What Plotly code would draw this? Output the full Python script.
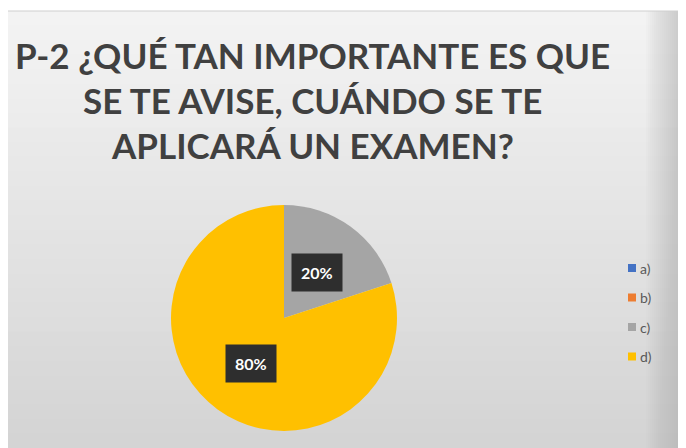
import math
import plotly.graph_objects as go

# ---- data ----
categories = ["a)", "b)", "c)", "d)"]
values = [0, 0, 20, 80]
colors = ["#4472C4", "#ED7D31", "#A5A5A5", "#FFC000"]
title_lines = ["P-2 ¿QUÉ TAN IMPORTANTE ES QUE", "SE TE AVISE, CUÁNDO SE TE", "APLICARÁ UN EXAMEN?"]

W, H = 686, 448
OFF = 8  # page body margin: figure is drawn 8px right/down in the window


def px(x):
    return (x - OFF) / W


def py(y):
    return (H - (y - OFF)) / H


# pie geometry (window pixels)
cx, cy, r = 284, 318, 113

fig = go.Figure()
fig.add_trace(go.Pie(
    labels=categories, values=values, sort=False, direction="clockwise", rotation=0,
    marker=dict(colors=colors, line=dict(width=0)),
    textinfo="none", showlegend=False,
    domain=dict(x=[px(cx - r), px(cx + r)], y=[py(cy + r), py(cy - r)]),
))

shapes = []
# gray gradient panel (starts at y=11 in window); overlapping rects avoid seams
top_px = 11
n = 30
c_top, c_bot = 243, 212
for i in range(n):
    ytop = top_px + (H - top_px) * i / n
    g = round(c_top + (c_bot - c_top) * i / (n - 1))
    shapes.append(dict(type="rect", xref="paper", yref="paper", x0=0, x1=1,
                       y0=0, y1=py(ytop), fillcolor=f"rgb({g},{g},{g})",
                       line=dict(width=0), layer="below"))
# darker right edge, soft
for i in range(16):
    shapes.append(dict(type="rect", xref="paper", yref="paper", x0=px(W - 40 + i * 2), x1=1,
                       y0=0, y1=py(top_px), fillcolor="rgba(170,170,170,0.035)",
                       line=dict(width=0), layer="below"))
shapes.append(dict(type="line", xref="paper", yref="paper", x0=0, x1=1,
                   y0=py(top_px), y1=py(top_px), line=dict(color="#cfcfcf", width=1), layer="below"))

annotations = []
# data labels with dark boxes, placed at slice mid-angle
total = sum(values)
cum = 0
for cat, v in zip(categories, values):
    if v > 0:
        mid = (cum + v / 2) / total * 2 * math.pi
        lx = cx + 0.5 * r * math.sin(mid)
        ly = cy - 0.5 * r * math.cos(mid)
        annotations.append(dict(x=px(lx), y=py(ly), xref="paper", yref="paper",
                                xanchor="center", yanchor="middle",
                                text=f"<b>{round(v / total * 100)}%</b>", showarrow=False,
                                font=dict(family="Lato, sans-serif", size=16, color="white"),
                                bgcolor="#2e2e2e", borderpad=9))
    cum += v

# custom legend
leg_x, leg_y0, leg_dy = 632, 268, 29.5
for i, (cat, col) in enumerate(zip(categories, colors)):
    yy = leg_y0 + i * leg_dy
    shapes.append(dict(type="rect", xref="paper", yref="paper",
                       x0=px(leg_x - 4), x1=px(leg_x + 4),
                       y0=py(yy + 4), y1=py(yy - 4),
                       fillcolor=col, line=dict(width=0)))
    annotations.append(dict(x=px(leg_x + 6), y=py(yy), xref="paper", yref="paper",
                            xanchor="left", yanchor="middle", text=cat, showarrow=False,
                            font=dict(family="Lato, sans-serif", size=14, color="#595959")))

# title block
for k, line in enumerate(title_lines):
    annotations.append(dict(x=px(312), y=py(55 + 45 * k), xref="paper", yref="paper",
                            xanchor="center", yanchor="middle", text=f"<b>{line}</b>",
                            showarrow=False,
                            font=dict(family="Lato, sans-serif", size=35, color="#404040")))

fig.update_layout(
    width=W, height=H, margin=dict(l=0, r=0, t=0, b=0),
    paper_bgcolor="white", plot_bgcolor="rgba(0,0,0,0)",
    shapes=shapes, annotations=annotations, showlegend=False,
)
fig.write_html("out.html")
